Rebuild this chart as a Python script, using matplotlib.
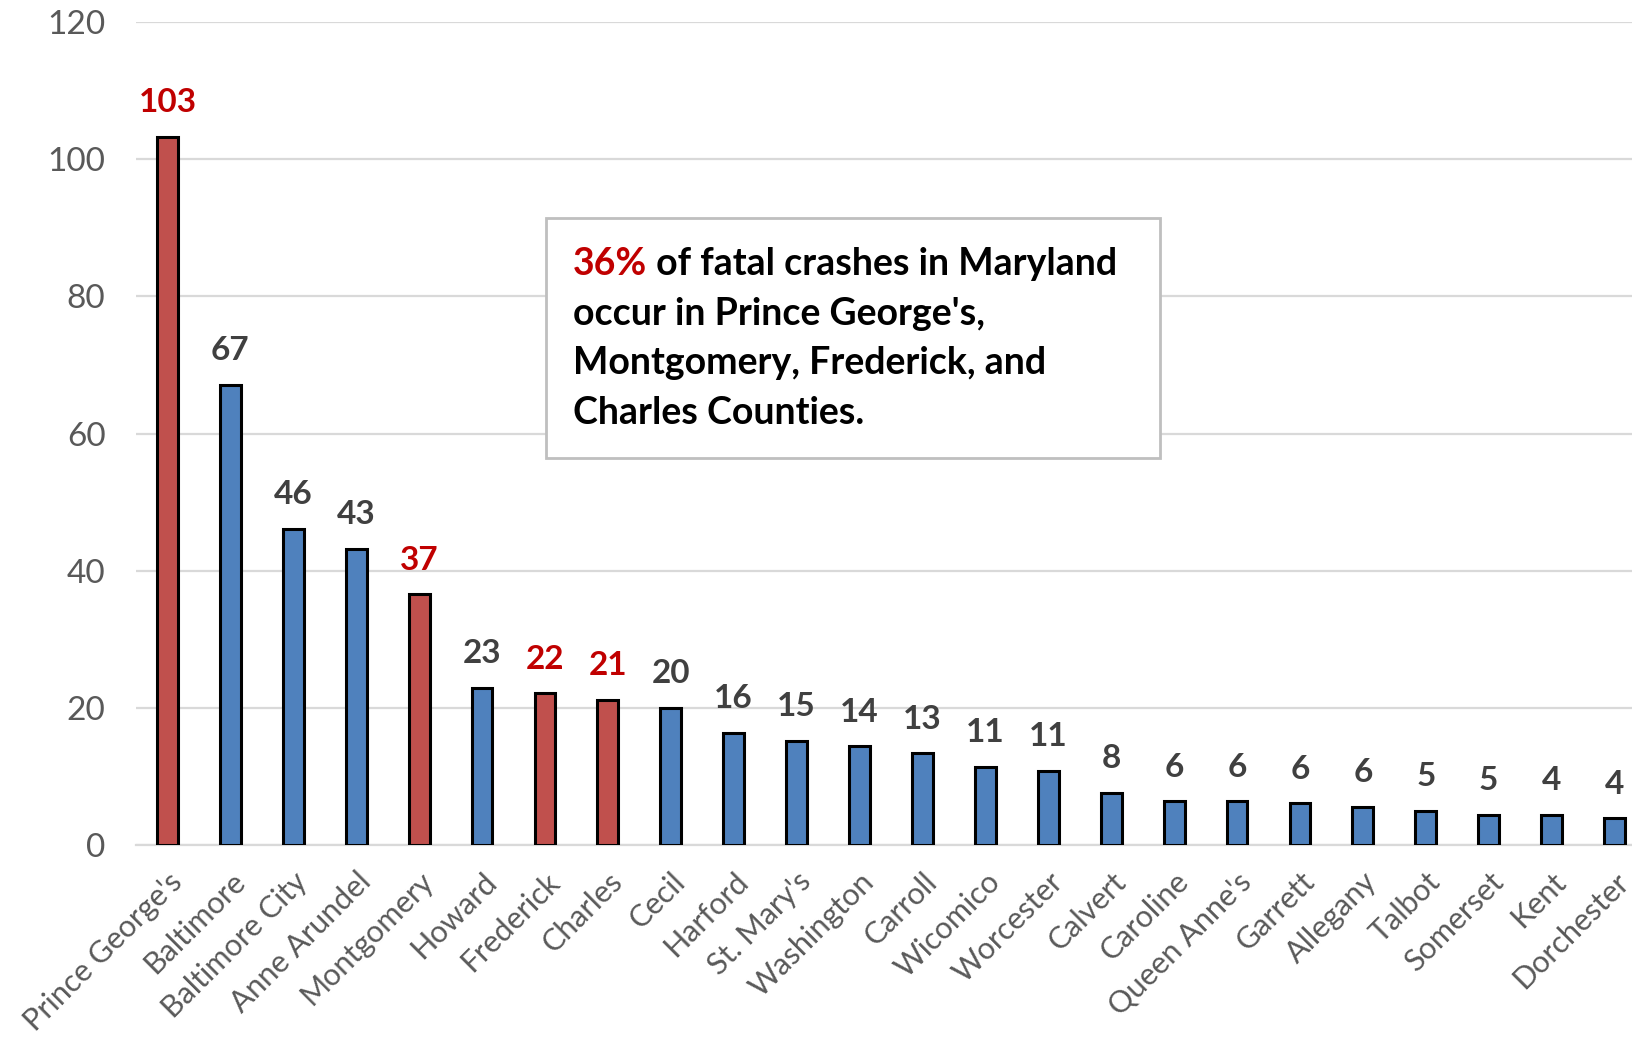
import matplotlib
matplotlib.use('Agg')
import matplotlib.pyplot as plt
from matplotlib.patches import Rectangle

# data
counties = ["Prince George's", 'Baltimore', 'Baltimore City', 'Anne Arundel', 'Montgomery',
            'Howard', 'Frederick', 'Charles', 'Cecil', 'Harford', "St. Mary's", 'Washington',
            'Carroll', 'Wicomico', 'Worcester', 'Calvert', 'Caroline', "Queen Anne's",
            'Garrett', 'Allegany', 'Talbot', 'Somerset', 'Kent', 'Dorchester']
heights = [103.3, 67.1, 46.1, 43.2, 36.6, 22.9, 22.1, 21.2, 20.0, 16.4, 15.2, 14.4,
           13.4, 11.4, 10.8, 7.6, 6.4, 6.4, 6.1, 5.6, 5.0, 4.4, 4.4, 3.9]
labels = [103, 67, 46, 43, 37, 23, 22, 21, 20, 16, 15, 14, 13, 11, 11, 8, 6, 6, 6, 6, 5, 5, 4, 4]
highlight = ["Prince George's", 'Montgomery', 'Frederick', 'Charles']

RED = '#C0504D'
BLUE = '#4F81BD'
LABEL_RED = '#C00000'
LABEL_GRAY = '#404040'

plt.rcParams['font.family'] = ['Lato', 'DejaVu Sans']

fig = plt.figure(figsize=(16.32, 10.38), dpi=100)
ax = fig.add_axes([136 / 1632, 193 / 1038, 1510 / 1632, (845 - 22) / 1038])

x = list(range(len(counties)))
colors = [RED if c in highlight else BLUE for c in counties]
ax.bar(x, heights, width=0.33, color=colors, edgecolor='black', linewidth=2.2, zorder=3)

for xi, h, lab, c in zip(x, heights, labels, counties):
    ax.annotate(str(lab), (xi, h), xytext=(0, 14), textcoords='offset points',
                ha='center', va='bottom', fontsize=24, fontweight='bold',
                color=LABEL_RED if c in highlight else LABEL_GRAY)

ax.set_xlim(-0.5, len(counties) - 0.5)
ax.set_ylim(0, 120)
ax.set_yticks(range(0, 121, 20))
ax.yaxis.grid(True, color='#D9D9D9', linewidth=1.6, zorder=0)
for s in ['top', 'right', 'left']:
    ax.spines[s].set_visible(False)
ax.spines['bottom'].set_color('#D9D9D9')
ax.spines['bottom'].set_linewidth(1.6)
ax.tick_params(axis='y', length=0, pad=22, labelsize=24, labelcolor='#595959')
ax.tick_params(axis='x', length=0, pad=16, labelsize=22, labelcolor='#595959')
ax.set_xticks(x)
ax.set_xticklabels(counties, rotation=45, ha='right', rotation_mode='anchor')

# text box
ax.add_patch(Rectangle((546 / 1632, 1 - 458 / 1038), 614 / 1632, 240 / 1038,
                       transform=fig.transFigure, facecolor='white', clip_on=False,
                       edgecolor='#BFBFBF', linewidth=2, zorder=5))
tx = 573 / 1632
lines = ["of fatal crashes in Maryland", "occur in Prince George's,",
         "Montgomery, Frederick, and", "Charles Counties."]
ys = [264, 314, 363, 413]
t = ax.annotate('36%', xy=(tx, 1 - ys[0] / 1038), xycoords='figure fraction',
                color=LABEL_RED, fontsize=27, fontweight='bold', va='center', zorder=6)
ax.annotate(' ' + lines[0], xy=(1, 0.5), xycoords=t, va='center', ha='left',
            fontsize=27, fontweight='bold', color='black', zorder=6)
for ln, yy in zip(lines[1:], ys[1:]):
    ax.annotate(ln, xy=(tx, 1 - yy / 1038), xycoords='figure fraction',
                fontsize=27, fontweight='bold', va='center', color='black', zorder=6)

fig.savefig('out.png', dpi=100)
